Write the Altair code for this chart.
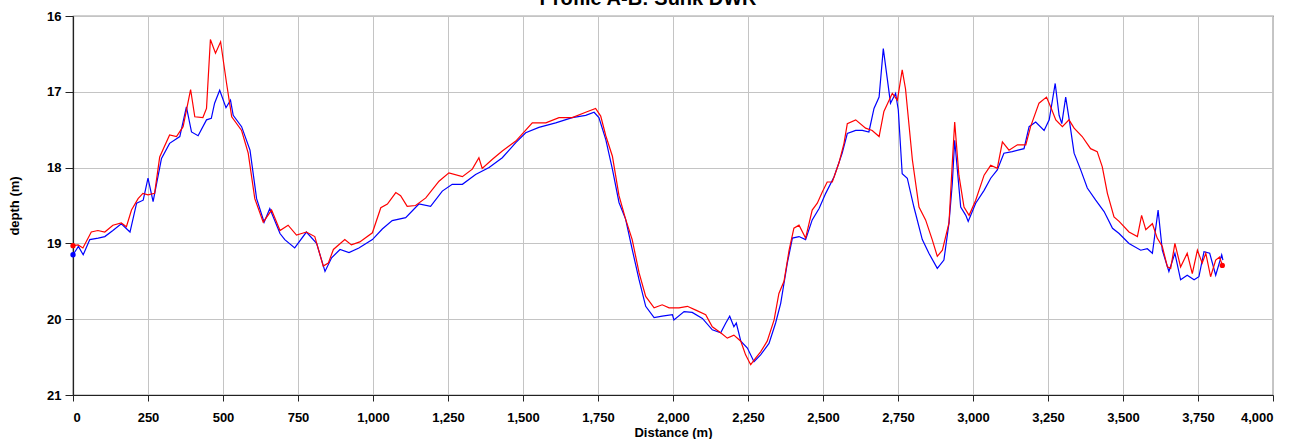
import altair as alt
import pandas as pd

red_dist = [0, 17, 33, 61, 83, 106, 133, 161, 178, 195, 217, 233, 250, 272, 289, 322, 345, 367, 392, 406,
            433, 445, 458, 475, 492, 512, 529, 562, 584, 606, 634, 662, 690, 717, 745, 778, 806, 834, 851, 868,
            906, 928, 956, 998, 1026, 1048, 1076, 1092, 1114, 1142, 1176, 1220, 1253, 1298, 1331, 1353, 1364, 1398, 1431, 1476,
            1531, 1576, 1620, 1664, 1709, 1742, 1759, 1776, 1798, 1820, 1842, 1864, 1887, 1909, 1937, 1964, 1987, 2020, 2048, 2076,
            2109, 2131, 2159, 2181, 2203, 2226, 2242, 2259, 2276, 2292, 2314, 2337, 2353, 2370, 2387, 2403, 2420, 2442, 2464, 2481,
            2498, 2514, 2531, 2553, 2570, 2581, 2609, 2642, 2664, 2687, 2703, 2731, 2748, 2764, 2775, 2798, 2820, 2842, 2864, 2881,
            2898, 2920, 2931, 2939, 2953, 2970, 2987, 3009, 3037, 3059, 3081, 3098, 3120, 3148, 3176, 3192, 3220, 3245, 3259, 3276,
            3298, 3320, 3337, 3364, 3392, 3414, 3431, 3448, 3470, 3487, 3520, 3548, 3562, 3576, 3598, 3614, 3631, 3648, 3659, 3673,
            3692, 3714, 3731, 3748, 3764, 3776, 3792, 3809, 3822, 3831]
red_depth = [19.03, 19.02, 19.06, 18.85, 18.83, 18.85, 18.76, 18.73, 18.78, 18.56, 18.41, 18.34, 18.36, 18.34, 17.86, 17.57, 17.59, 17.46, 16.97, 17.33,
             17.34, 17.22, 16.31, 16.49, 16.34, 16.89, 17.33, 17.51, 17.81, 18.41, 18.72, 18.56, 18.83, 18.76, 18.89, 18.85, 18.91, 19.30, 19.26, 19.08,
             18.95, 19.02, 18.98, 18.86, 18.53, 18.48, 18.33, 18.37, 18.51, 18.50, 18.40, 18.18, 18.07, 18.12, 18.02, 17.87, 18.01, 17.89, 17.78, 17.65,
             17.41, 17.41, 17.34, 17.34, 17.27, 17.22, 17.32, 17.58, 17.85, 18.37, 18.68, 18.95, 19.39, 19.70, 19.85, 19.81, 19.85, 19.85, 19.83, 19.88,
             19.94, 20.10, 20.18, 20.25, 20.21, 20.29, 20.47, 20.60, 20.51, 20.43, 20.29, 20.01, 19.66, 19.50, 19.09, 18.80, 18.76, 18.93, 18.56, 18.47,
             18.32, 18.19, 18.19, 17.94, 17.68, 17.42, 17.37, 17.48, 17.51, 17.59, 17.26, 17.02, 17.11, 16.71, 16.96, 17.90, 18.52, 18.69, 18.95, 19.17,
             19.09, 18.73, 17.94, 17.40, 18.10, 18.52, 18.63, 18.43, 18.10, 17.97, 18.01, 17.66, 17.77, 17.70, 17.70, 17.46, 17.15, 17.07, 17.20, 17.37,
             17.46, 17.37, 17.48, 17.59, 17.75, 17.79, 17.99, 18.34, 18.65, 18.71, 18.85, 18.91, 18.63, 18.82, 18.74, 18.93, 19.04, 19.31, 19.33, 19.00,
             19.31, 19.13, 19.40, 19.09, 19.26, 19.13, 19.44, 19.22, 19.18, 19.29]

blue_dist = [0, 18, 34, 56, 84, 106, 133, 161, 190, 212, 234, 250, 267, 295, 322, 356, 378, 395, 417, 445,
             461, 472, 489, 510, 525, 534, 562, 590, 612, 637, 656, 690, 706, 739, 778, 812, 840, 862, 890, 920,
             953, 998, 1031, 1064, 1109, 1153, 1192, 1231, 1264, 1298, 1342, 1387, 1431, 1476, 1509, 1553, 1609, 1664, 1709, 1737,
             1753, 1776, 1798, 1820, 1842, 1864, 1887, 1909, 1937, 1964, 1998, 2003, 2037, 2064, 2098, 2131, 2159, 2176, 2189, 2203,
             2211, 2226, 2248, 2270, 2292, 2320, 2342, 2359, 2381, 2398, 2420, 2442, 2464, 2487, 2509, 2537, 2564, 2581, 2609, 2631,
             2653, 2670, 2687, 2701, 2714, 2725, 2742, 2751, 2764, 2781, 2803, 2831, 2853, 2881, 2903, 2920, 2931, 2939, 2959, 2976,
             2984, 3009, 3037, 3059, 3081, 3103, 3131, 3170, 3187, 3209, 3237, 3254, 3274, 3287, 3296, 3309, 3322, 3337, 3359, 3381,
             3409, 3437, 3465, 3487, 3520, 3559, 3581, 3598, 3617, 3631, 3653, 3673, 3692, 3714, 3737, 3753, 3770, 3789, 3809, 3829,
             3833]
blue_depth = [19.15, 19.04, 19.15, 18.95, 18.93, 18.91, 18.83, 18.74, 18.85, 18.47, 18.43, 18.14, 18.45, 17.88, 17.68, 17.59, 17.20, 17.53, 17.58, 17.37,
              17.35, 17.15, 16.98, 17.21, 17.11, 17.31, 17.46, 17.77, 18.41, 18.72, 18.54, 18.87, 18.95, 19.06, 18.85, 19.00, 19.37, 19.19, 19.08, 19.12,
              19.06, 18.95, 18.81, 18.70, 18.66, 18.48, 18.51, 18.31, 18.22, 18.22, 18.09, 18.00, 17.87, 17.67, 17.54, 17.47, 17.41, 17.34, 17.31, 17.27,
              17.34, 17.63, 18.02, 18.46, 18.68, 19.08, 19.48, 19.83, 19.98, 19.96, 19.94, 20.01, 19.90, 19.91, 19.99, 20.14, 20.18, 20.05, 19.96, 20.10,
              20.05, 20.29, 20.38, 20.56, 20.47, 20.32, 20.05, 19.79, 19.26, 18.93, 18.91, 18.95, 18.69, 18.54, 18.34, 18.12, 17.81, 17.55, 17.51, 17.51,
              17.53, 17.22, 17.07, 16.43, 16.82, 17.15, 17.02, 17.24, 18.08, 18.14, 18.52, 18.95, 19.13, 19.33, 19.22, 18.73, 18.21, 17.64, 18.52, 18.63,
              18.71, 18.47, 18.30, 18.14, 18.03, 17.81, 17.79, 17.75, 17.46, 17.40, 17.51, 17.37, 16.89, 17.31, 17.42, 17.07, 17.40, 17.81, 18.03, 18.27,
              18.43, 18.58, 18.80, 18.87, 19.00, 19.09, 19.07, 19.13, 18.56, 19.09, 19.37, 19.13, 19.48, 19.42, 19.48, 19.44, 19.11, 19.13, 19.42, 19.15,
              19.22]

x_ticks = list(range(0, 4001, 250))
y_ticks = [16, 17, 18, 19, 20, 21]
title_text = "Profile A-B: Sunk DWR"

df = pd.concat([
    pd.DataFrame({"dist": blue_dist, "depth": blue_depth, "series": "blue", "i": range(len(blue_dist))}),
    pd.DataFrame({"dist": red_dist, "depth": red_depth, "series": "red", "i": range(len(red_dist))}),
], ignore_index=True)

ends = pd.DataFrame({
    "dist": [blue_dist[0], red_dist[0], red_dist[-1]],
    "depth": [blue_depth[0], red_depth[0], red_depth[-1]],
    "series": ["blue", "red", "red"],
})

FONT = "Liberation Sans"

x_enc = alt.X("dist:Q", scale=alt.Scale(domain=[0, 4000], nice=False),
              axis=alt.Axis(values=x_ticks, format=",.0f", title="Distance (m)", tickSize=6,
                            labelPadding=10, titlePadding=2))
y_enc = alt.Y("depth:Q", scale=alt.Scale(domain=[16, 21], reverse=True, nice=False, zero=False),
              axis=alt.Axis(values=y_ticks, format="d", title="depth (m)", tickSize=8,
                            labelPadding=4, titlePadding=25))
color = alt.Color("series:N", scale=alt.Scale(domain=["blue", "red"], range=["#0000ff", "#ff0000"]), legend=None)

lines = alt.Chart(df).mark_line(strokeWidth=1.2, interpolate="linear").encode(
    x=x_enc, y=y_enc, color=color, detail="series:N", order="i:Q")
dots = alt.Chart(ends).mark_circle(size=28, opacity=1).encode(
    x="dist:Q", y="depth:Q", color=color)
title = alt.Chart(pd.DataFrame({"t": [title_text]})).mark_text(
    font=FONT, fontSize=20, fontWeight="bold", color="black", align="center", baseline="alphabetic"
).encode(x=alt.value(575), y=alt.value(-11), text="t:N")

chart = alt.layer(lines, dots, title).properties(
    width=1200, height=379,
    autosize=alt.AutoSizeParams(type="none"),
    padding={"left": 73, "top": 16, "right": 20, "bottom": 44},
).configure_view(stroke="#444", strokeWidth=1.2).configure_axis(
    labelFont=FONT, labelFontSize=13, labelFontWeight="bold", labelColor="black",
    titleFont=FONT, titleFontSize=13, titleFontWeight="bold", titleColor="black",
    gridColor="#c4c4c4", gridWidth=1, domainColor="#222", domainWidth=1.2,
    tickColor="#222", tickWidth=1,
)

chart.save("out.html", embed_options={"renderer": "svg", "actions": False})
